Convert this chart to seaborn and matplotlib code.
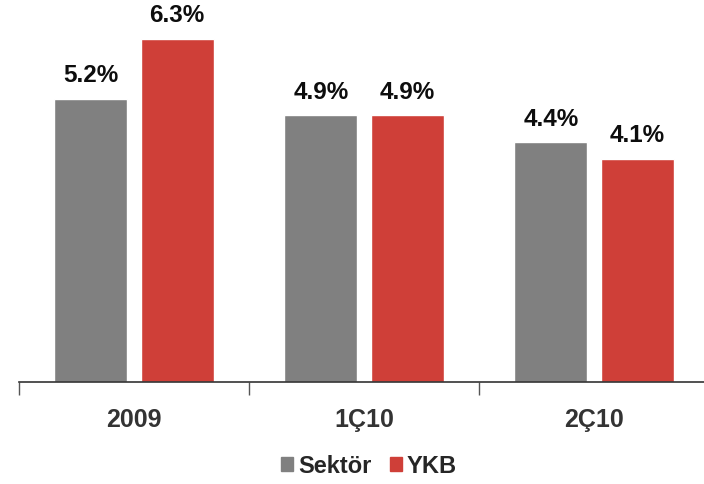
import numpy as np
import pandas as pd
import matplotlib
matplotlib.use("Agg")
import matplotlib.pyplot as plt
import seaborn as sns

categories = ["2009", "1Ç10", "2Ç10"]
sektor = [5.2, 4.9, 4.4]
ykb = [6.3, 4.9, 4.1]
series = ["Sektör", "YKB"]
colors = ["#808080", "#CF3F38"]

df = pd.DataFrame({
    "period": categories * 2,
    "value": sektor + ykb,
    "series": [series[0]] * 3 + [series[1]] * 3,
})

sns.set_style("white")
plt.rcParams["font.family"] = ["Liberation Sans", "DejaVu Sans"]

fig = plt.figure(figsize=(7.04, 4.85), dpi=100)
ax = fig.add_axes([19 / 704, 102 / 485, 690 / 704, 383 / 485])

sns.barplot(data=df, x="period", y="value", hue="series", palette=colors,
            width=0.75, gap=0.155, saturation=1, ax=ax, legend=False)

# value labels
for cont in ax.containers:
    ax.bar_label(cont, labels=[f"{v:.1f}%" for v in cont.datavalues],
                 padding=9, fontsize=17.5, fontweight="bold", color="#0d0d0d")

ax.set_xlim(-0.5, 2.5)
ax.set_ylim(0, 7.03)
ax.set_xlabel("")
ax.set_ylabel("")
ax.set_yticks([])
ax.set_xticks([-0.5, 0.5, 1.5, 2.5], minor=False)
ax.set_xticklabels([])
ax.set_xticks([0, 1, 2], minor=True)
ax.set_xticklabels(categories, minor=True, fontsize=18, fontweight="bold",
                   color="#333333")
ax.tick_params(axis="x", which="major", length=9, width=1, color="#555555",
               direction="out", bottom=True)
ax.tick_params(axis="x", which="minor", length=0, pad=18)
for s in ["top", "right", "left"]:
    ax.spines[s].set_visible(False)
ax.spines["bottom"].set_color("#333333")
ax.spines["bottom"].set_linewidth(1.2)

handles = [plt.Rectangle((0, 0), 1, 1, color=c) for c in colors]
fig.legend(handles, series, loc="center", bbox_to_anchor=(369 / 704, 18 / 485),
           ncol=2, frameon=False, handlelength=0.5, handleheight=0.55,
           handletextpad=0.2, columnspacing=0.8,
           prop={"size": 17, "weight": "bold"})

fig.savefig("out.png", dpi=100)
